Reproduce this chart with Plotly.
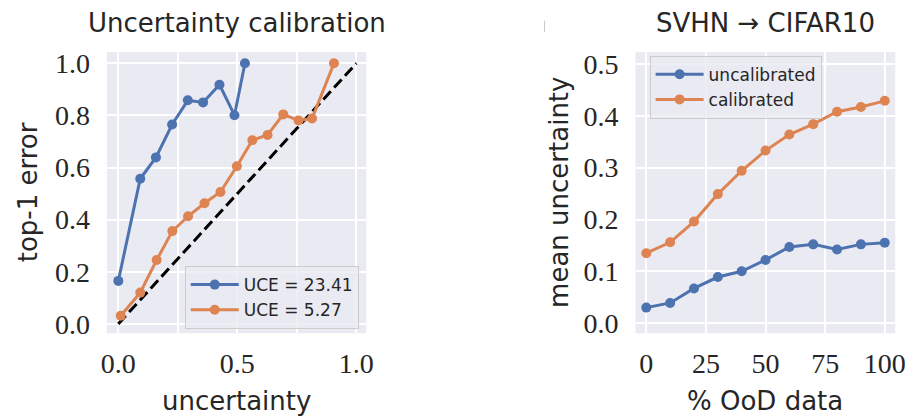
import plotly.graph_objects as go

# Reliability diagram: error vs. predicted uncertainty per bin
uncal_unc = [0.0, 0.092, 0.158, 0.226, 0.292, 0.356, 0.425, 0.488, 0.532]
uncal_err = [0.165, 0.557, 0.639, 0.765, 0.858, 0.850, 0.918, 0.801, 1.0]
cal_unc = [0.010, 0.092, 0.161, 0.227, 0.293, 0.362, 0.429, 0.498, 0.563,
           0.627, 0.693, 0.757, 0.814, 0.906]
cal_err = [0.031, 0.120, 0.245, 0.356, 0.413, 0.463, 0.506, 0.605, 0.705,
           0.725, 0.804, 0.781, 0.788, 1.0]
uce_labels = ["UCE = 23.41", "UCE = 5.27"]

# Mean uncertainty as out-of-distribution fraction grows
ood_pct = [0, 10, 20, 30, 40, 50, 60, 70, 80, 90, 100]
mean_unc_uncal = [0.030, 0.039, 0.067, 0.089, 0.100, 0.122, 0.147, 0.152,
                  0.142, 0.152, 0.155]
mean_unc_cal = [0.135, 0.156, 0.196, 0.249, 0.294, 0.333, 0.364, 0.384,
                0.408, 0.417, 0.429]

BLUE = "#4C72B0"
ORANGE = "#DD8452"
BG = "#EAEAF2"
TEXT = "#262626"
W, H = 919, 419

SANS = "DejaVu Sans"
SERIF = "Liberation Serif"


def px_x(p):
    return p / W


def px_y(p):
    return 1 - p / H


fig = go.Figure()

line_style = dict(width=3)
marker_style = dict(size=10)

fig.add_trace(go.Scatter(x=[0, 1], y=[0, 1], mode="lines",
                         line=dict(color="black", width=3, dash="11px,5px"),
                         showlegend=False, xaxis="x", yaxis="y"))
fig.add_trace(go.Scatter(x=uncal_unc, y=uncal_err, mode="lines+markers",
                         name=uce_labels[0], line=dict(color=BLUE, **line_style),
                         marker=dict(color=BLUE, **marker_style),
                         xaxis="x", yaxis="y", legend="legend"))
fig.add_trace(go.Scatter(x=cal_unc, y=cal_err, mode="lines+markers",
                         name=uce_labels[1], line=dict(color=ORANGE, **line_style),
                         marker=dict(color=ORANGE, **marker_style),
                         xaxis="x", yaxis="y", legend="legend"))

fig.add_trace(go.Scatter(x=ood_pct, y=mean_unc_uncal, mode="lines+markers",
                         name="uncalibrated", line=dict(color=BLUE, **line_style),
                         marker=dict(color=BLUE, **marker_style),
                         xaxis="x2", yaxis="y2", legend="legend2"))
fig.add_trace(go.Scatter(x=ood_pct, y=mean_unc_cal, mode="lines+markers",
                         name="calibrated", line=dict(color=ORANGE, **line_style),
                         marker=dict(color=ORANGE, **marker_style),
                         xaxis="x2", yaxis="y2", legend="legend2"))

axis_common = dict(showgrid=True, gridcolor="white", gridwidth=2,
                   zeroline=False, showline=False, ticks="",
                   tickfont=dict(family=SERIF, size=28, color=TEXT))

left_x0, left_x1 = 102.7, 366.7
right_x0, right_x1 = 640.7, 905.0
top_y, bot_y = 49.3, 337.3

legend_common = dict(bgcolor="rgba(234,234,242,0.8)", bordercolor="#CCCCCC",
                     borderwidth=1, font=dict(family=SANS, size=17, color=TEXT),
                     tracegroupgap=0, itemwidth=48)

fig.update_layout(
    width=W, height=H,
    margin=dict(l=0, r=0, t=0, b=0),
    paper_bgcolor="white",
    plot_bgcolor=BG,
    xaxis=dict(domain=[px_x(left_x0), px_x(left_x1)], range=[-0.048, 1.042],
               tickvals=[0, 0.25, 0.5, 0.75, 1.0],
               ticktext=["0.0", "", "0.5", "", "1.0"],
               anchor="y", ticklabelstandoff=11, **axis_common),
    yaxis=dict(domain=[px_y(bot_y), px_y(top_y)], range=[-0.036, 1.043],
               tickvals=[0, 0.2, 0.4, 0.6, 0.8, 1.0],
               ticktext=["0.0", "0.2", "0.4", "0.6", "0.8", "1.0"],
               anchor="x", ticklabelstandoff=16, **axis_common),
    xaxis2=dict(domain=[px_x(right_x0), px_x(right_x1)], range=[-4.5, 104.4],
                tickvals=[0, 25, 50, 75, 100],
                ticktext=["0", "25", "50", "75", "100"],
                anchor="y2", ticklabelstandoff=11, **axis_common),
    yaxis2=dict(domain=[px_y(bot_y), px_y(top_y)], range=[-0.0195, 0.523],
                tickvals=[0, 0.1, 0.2, 0.3, 0.4, 0.5],
                ticktext=["0.0", "0.1", "0.2", "0.3", "0.4", "0.5"],
                anchor="x2", ticklabelstandoff=16, **axis_common),
    legend=dict(x=px_x(359), y=px_y(333), xanchor="right", yanchor="bottom",
                **legend_common),
    legend2=dict(x=px_x(655), y=px_y(53), xanchor="left", yanchor="top",
                 **legend_common),
    showlegend=True,
)

# small stray tick above the right panel
fig.add_shape(type="line", xref="paper", yref="paper",
              x0=px_x(548), x1=px_x(548), y0=px_y(17), y1=px_y(29),
              line=dict(color="#C8C8C8", width=1))

text_font = dict(family=SANS, size=26, color=TEXT)
annots = [
    ("Uncertainty calibration", (left_x0 + left_x1) / 2, 19, 0),
    ("SVHN \u2192 CIFAR10", (right_x0 + right_x1) / 2, 19, 0),
    ("uncertainty", (left_x0 + left_x1) / 2, 407, 0),
    ("% OoD data", (right_x0 + right_x1) / 2, 407, 0),
    ("top-1 error", 22, (top_y + bot_y) / 2, -90),
    ("mean uncertainty", 562, (top_y + bot_y) / 2, -90),
]
for txt, x, y, ang in annots:
    fig.add_annotation(text=txt, x=px_x(x), y=px_y(y), xref="paper", yref="paper",
                       showarrow=False, xanchor="center", yanchor="middle",
                       textangle=ang, font=text_font)

fig.write_html("out.html")
